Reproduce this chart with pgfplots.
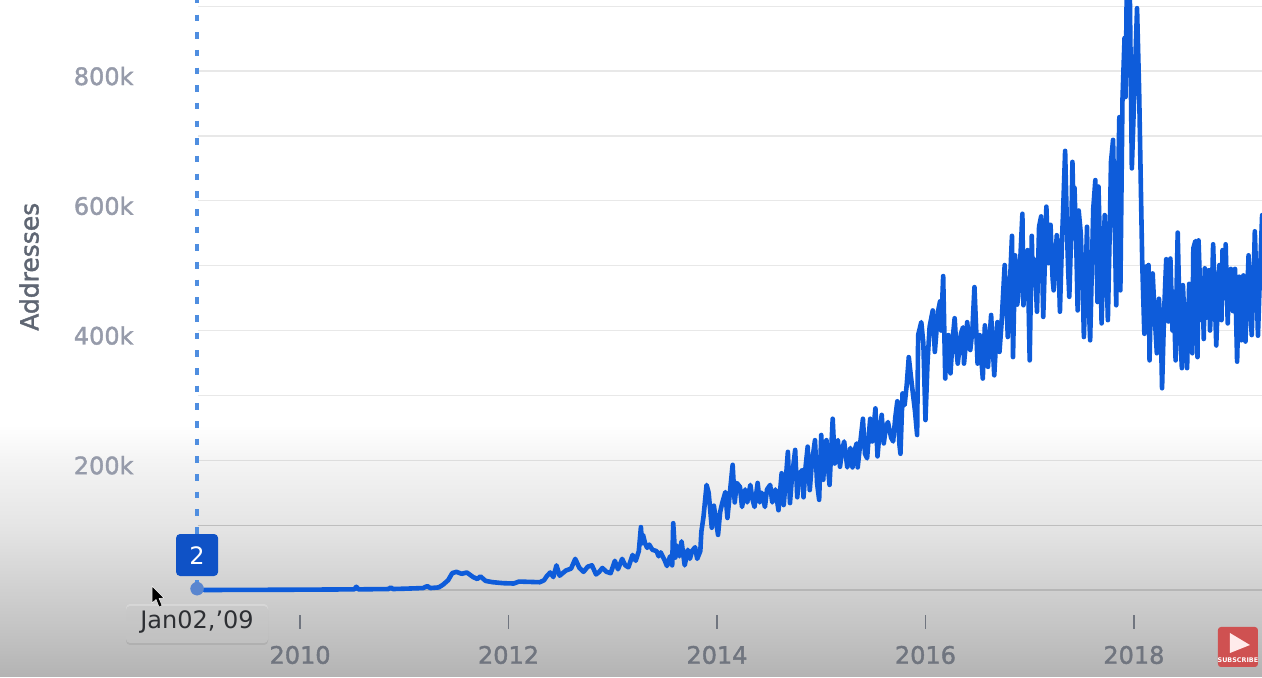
\documentclass[border=0pt]{standalone}
\usepackage{fontspec}
\usepackage{pgfplots}
\pgfplotsset{compat=1.18}
\setmainfont{DejaVu Sans}
\newfontfamily\labelfont[FakeBold=1.6]{DejaVu Sans}
\definecolor{lineblue}{HTML}{0E5CDA}
\definecolor{badgeblue}{HTML}{0F52C6}
\definecolor{crossblue}{HTML}{4F8EE0}
\definecolor{dotblue}{HTML}{5A86CF}
\definecolor{ygrey}{HTML}{969BAA}
\definecolor{xgrey}{HTML}{70757F}
\definecolor{labgrey}{HTML}{5F6673}
\definecolor{subred}{HTML}{CF5151}
\definecolor{bg1}{HTML}{B3B3B3}
\definecolor{bg2}{HTML}{C0C0C0}
\definecolor{bg3}{HTML}{D0D0D0}
\definecolor{bg4}{HTML}{E5E5E5}
\definecolor{bg5}{HTML}{F4F4F4}
% tikz fits the middle 50bp of a shading to the path
\pgfdeclareverticalshading{fade}{100bp}{color(0bp)=(bg1); color(25bp)=(bg1); color(27.7bp)=(bg2); color(31.4bp)=(bg3); color(36.2bp)=(bg4); color(41bp)=(bg5); color(43.6bp)=(white); color(100bp)=(white)}

\pgfplotstableread{
year k
2009.08 0
2009.50 0.2
2010.00 0.5
2010.52 1
2010.54 5
2010.56 1
2010.85 1.5
2010.87 4
2010.89 1.5
2011.00 2
2011.18 3
2011.22 6
2011.25 3
2011.33 4
2011.37 8
2011.42 15
2011.46 26
2011.50 28
2011.55 25
2011.60 27
2011.66 20
2011.70 17
2011.73 21
2011.78 14
2011.85 12
2011.95 10.5
2012.05 10
2012.10 13
2012.20 12.5
2012.30 12
2012.34 15
2012.37 22
2012.40 27
2012.43 20
2012.46 38
2012.49 22
2012.55 30
2012.60 33
2012.64 48
2012.68 34
2012.72 28
2012.76 36
2012.80 38
2012.84 24
2012.87 28
2012.90 34
2012.94 28
2012.98 26
2013.02 45
2013.05 32
2013.09 48
2013.12 38
2013.15 35
2013.19 54
2013.22 45
2013.25 60
2013.27 97
2013.28 72
2013.29 85
2013.31 72
2013.33 65
2013.35 70
2013.38 62
2013.42 60
2013.44 52
2013.46 58
2013.50 45
2013.52 37
2013.55 52
2013.57 38
2013.58 103
2013.60 50
2013.62 68
2013.64 52
2013.66 75
2013.69 38
2013.72 62
2013.74 48
2013.76 60
2013.79 66
2013.81 48
2013.84 60
2013.85 90
2013.87 112
2013.90 162
2013.92 150
2013.95 96
2013.97 130
2014.01 85
2014.03 120
2014.05 134
2014.08 151
2014.10 111
2014.15 193
2014.17 135
2014.19 165
2014.22 159
2014.24 128
2014.27 155
2014.29 135
2014.32 162
2014.34 140
2014.36 128
2014.39 165
2014.41 135
2014.43 150
2014.46 128
2014.48 155
2014.51 162
2014.53 135
2014.56 155
2014.59 123
2014.62 180
2014.64 131
2014.66 170
2014.68 213
2014.70 134
2014.72 175
2014.75 216
2014.77 143
2014.79 180
2014.82 185
2014.83 143
2014.85 190
2014.87 221
2014.89 154
2014.91 195
2014.94 231
2014.96 165
2014.98 139
2015.00 239
2015.02 170
2015.03 210
2015.05 231
2015.07 180
2015.08 162
2015.11 264
2015.13 195
2015.14 225
2015.16 231
2015.18 190
2015.20 215
2015.22 229
2015.25 189
2015.28 219
2015.30 189
2015.32 215
2015.34 226
2015.35 189
2015.38 235
2015.40 264
2015.42 210
2015.44 203
2015.46 245
2015.47 264
2015.49 229
2015.52 280
2015.54 206
2015.56 245
2015.58 270
2015.60 226
2015.62 250
2015.64 259
2015.67 235
2015.69 229
2015.71 265
2015.73 291
2015.75 225
2015.76 210
2015.78 303
2015.80 285
2015.82 316
2015.84 359
2015.86 330
2015.87 316
2015.90 275
2015.92 239
2015.93 393
2015.96 413
2015.98 380
2016.00 262
2016.02 352
2016.04 406
2016.07 431
2016.09 367
2016.12 429
2016.14 445
2016.15 400
2016.17 484
2016.19 326
2016.20 375
2016.22 393
2016.24 334
2016.26 385
2016.28 419
2016.30 365
2016.31 349
2016.34 395
2016.36 405
2016.37 349
2016.39 385
2016.40 413
2016.43 370
2016.45 400
2016.47 467
2016.50 349
2016.52 393
2016.55 326
2016.57 408
2016.60 344
2016.62 400
2016.63 424
2016.66 331
2016.68 390
2016.69 413
2016.71 367
2016.73 411
2016.76 501
2016.78 430
2016.79 390
2016.81 470
2016.83 546
2016.84 359
2016.86 516
2016.88 440
2016.89 452
2016.91 510
2016.93 580
2016.94 439
2016.96 490
2016.98 524
2017.00 354
2017.02 546
2017.03 470
2017.04 510
2017.06 465
2017.07 429
2017.09 560
2017.11 576
2017.13 421
2017.15 530
2017.16 591
2017.18 504
2017.20 563
2017.22 480
2017.23 462
2017.25 520
2017.26 547
2017.28 490
2017.29 429
2017.31 540
2017.32 581
2017.34 677
2017.36 540
2017.37 490
2017.38 452
2017.40 560
2017.41 660
2017.42 590
2017.43 620
2017.45 510
2017.46 431
2017.47 585
2017.49 550
2017.51 460
2017.52 390
2017.54 500
2017.55 560
2017.56 470
2017.58 385
2017.60 520
2017.61 588
2017.63 632
2017.65 444
2017.66 622
2017.68 490
2017.69 411
2017.71 530
2017.72 578
2017.74 480
2017.75 416
2017.77 570
2017.78 660
2017.80 694
2017.82 530
2017.83 439
2017.85 640
2017.86 729
2017.87 462
2017.89 755
2017.91 851
2017.92 760
2017.93 910
2017.96 930
2017.98 650
2018.03 897
2018.05 770
2018.07 590
2018.08 503
2018.10 395
2018.12 499
2018.13 440
2018.14 501
2018.15 354
2018.16 430
2018.18 488
2018.20 420
2018.22 365
2018.24 449
2018.26 390
2018.27 311
2018.29 430
2018.31 510
2018.32 440
2018.33 414
2018.35 511
2018.37 400
2018.38 460
2018.40 354
2018.41 470
2018.42 551
2018.44 410
2018.46 342
2018.47 470
2018.49 400
2018.51 342
2018.53 472
2018.54 410
2018.56 365
2018.57 527
2018.59 538
2018.61 359
2018.62 539
2018.64 440
2018.65 416
2018.66 460
2018.67 387
2018.68 496
2018.70 420
2018.71 470
2018.72 493
2018.73 400
2018.75 470
2018.76 533
2018.78 430
2018.79 377
2018.81 470
2018.82 501
2018.84 416
2018.85 524
2018.87 450
2018.88 533
2018.90 411
2018.91 470
2018.93 495
2018.95 430
2018.97 495
2018.99 352
2019.01 483
2019.03 385
2019.05 485
2019.07 383
2019.09 470
2019.10 516
2019.12 430
2019.13 393
2019.15 490
2019.16 553
2019.18 450
2019.19 392
2019.21 490
2019.23 578
}\addresses

\begin{document}
\begin{tikzpicture}
\begin{axis}[
  at={(0pt,0pt)}, anchor=south west,
  scale only axis, width=1262pt, height=677pt,
  xmin=2007.122, xmax=2019.228,
  ymin=-134.104, ymax=909.441,
  axis line style={draw=none},
  major tick length=0pt,
  axis background/.style={shading=fade},
  xtick={2010,2012,2014,2016,2018},
  xticklabels={2010,2012,2014,2016,2018},
  ytick={200,400,600,800},
  yticklabels={200k,400k,600k,800k},
  xticklabel style={font=\labelfont\fontsize{24}{24}\selectfont, text=xgrey, anchor=center, yshift=22pt},
  yticklabel style={font=\labelfont\fontsize{24}{24}\selectfont, text=ygrey, anchor=east, xshift=137pt, yshift=-5pt},
  every axis y label/.style={at={(rel axis cs:0.0230,0.606)}, rotate=90, anchor=center},
  ylabel={\labelfont\fontsize{25}{25}\selectfont\textcolor{labgrey}{Addresses}},
]
\pgfplotsinvokeforeach{200,300,400,500,600,700,800,900}{
  \draw[black, opacity=0.09, line width=1.2pt] (axis cs:2009.02,#1) -- (axis cs:2019.228,#1);
}
\draw[black, opacity=0.12, line width=1.2pt] (axis cs:2009.02,0) -- (axis cs:2019.228,0);
\draw[black, opacity=0.17, line width=1.2pt] (axis cs:2009.02,100) -- (axis cs:2019.228,100);
\pgfplotsinvokeforeach{2010,2012,2014,2016,2018}{
  \draw[xgrey, line width=1.4pt] (axis cs:#1,-39) -- (axis cs:#1,-60);
}
\draw[crossblue, line width=4pt, dash pattern=on 6.5pt off 11.17pt, dash phase=3.1pt]
  (axis cs:2009.012,909.441) -- (axis cs:2009.012,0);
\addplot[lineblue, line width=4.6pt, line join=round, line cap=round] table[x=year, y=k] {\addresses};
\addplot[only marks, mark=*, mark size=6.5pt, dotblue, mark options={fill=dotblue, draw=dotblue}] coordinates {(2009.012,2)};
\end{axis}
\begin{scope}[x=1pt, y=-1pt, yshift=677pt]
  % badge
  \fill[badgeblue, rounded corners=4pt] (176,534) rectangle (218,576);
  \node[text=white, font=\fontsize{24}{24}\selectfont] at (197,555.5) {2};
  % date tooltip
  \fill[black, opacity=0.08, rounded corners=4pt] (126,606) rectangle (268,645);
  \fill[fill=white, opacity=0.22, rounded corners=4pt] (126,604) rectangle (268,643);
  \node[text=black!60!xgrey, font=\fontsize{24}{24}\selectfont] at (197,622) {Jan02,'09};
  % cursor
  \fill[black, draw=white, line width=0.5pt] (152,586) -- (152,603) -- (156,599.5) -- (159,607) -- (162,605.5) -- (159,598.5) -- (164,598) -- cycle;
  % subscribe button
  \fill[subred, rounded corners=3pt] (1218,627) rectangle (1258,667);
  \fill[white!92!red] (1230,633) -- (1250,645) -- (1230,653) -- cycle;
  \node[text=white, inner sep=0pt, font=\bfseries\fontsize{6.4}{6.4}\selectfont] at (1238,660.5) {SUBSCRIBE};
\end{scope}
\end{tikzpicture}
\end{document}
